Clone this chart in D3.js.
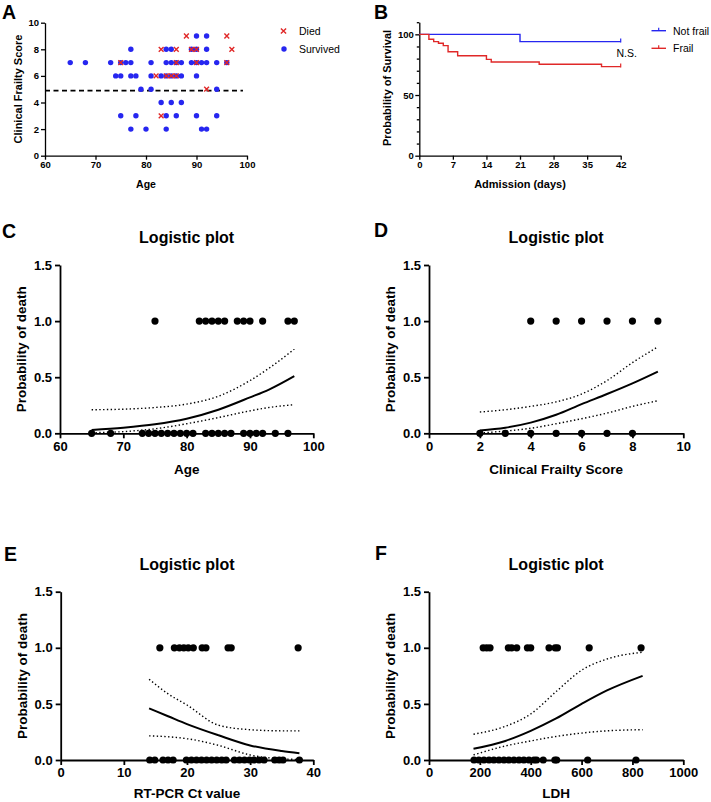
<!DOCTYPE html>
<html>
<head>
<meta charset="utf-8">
<script src="https://cdn.jsdelivr.net/npm/d3@7"></script>
<style>
  body { margin: 0; background: #fff; }
  text { font-family: "Liberation Sans", Arial, sans-serif; }
</style>
</head>
<body>
<svg id="fig" width="711" height="802"></svg>
<script>
// ---- data ----
var blue = "#2626f0", red = "#e02828";

// panel A: [age, clinical frailty score]
var survivedA = [
  [90,9],[92,9],
  [77,8],[84,8],[85,8],[89,8],[90,8],[92,8],
  [65,7],[68,7],[73,7],[75,7],[76,7],[77,7],[81,7],[84,7],[85,7],[86,7],[87,7],[89,7],[90,7],[91,7],[92,7],[94,7],[96,7],
  [74,6],[75,6],[77,6],[78,6],[81,6],[83,6],[84,6],[85,6],[86,6],[87,6],[90,6],
  [79,5],[81,5],[94,5],
  [83,4],[85,4],[87,4],
  [75,3],[78,3],[84,3],[86,3],[90,3],[94,3],
  [77,2],[80,2],[84,2],[91,2],[92,2]
];
var diedA = [
  [88,9],[96,9],
  [83,8],[86,8],[89,8],[90,8],[97,8],
  [75,7],[86,7],[90,7],[96,7],
  [82,6],[84,6],[85,6],[86,6],
  [92,5],
  [83,3]
];
var frailtyCutoff = 4.9;

// panel B: Kaplan-Meier steps
var notFrailDays = [0, 21, 42];
var notFrailSurv = [100, 94, 94];
var frailDays = [0, 2, 3, 4, 5, 6, 8, 14, 15, 25, 38, 42];
var frailSurv = [100, 96, 94, 92.6, 90.7, 85.7, 82.4, 79.4, 77.2, 75.3, 73.4, 73.4];

// panel C: age
var deadC = [75,82,83,84,85,86,88,89,90,92,96,97];
var aliveC = [65,68,73,74,75,76,77,78,79,80,81,83,84,85,86,87,89,90,91,92,94,96];
var fitXC = [65,70,75,80,85,90,93,97];
var fitC = [0.03,0.05,0.08,0.13,0.21,0.32,0.39,0.51];
var upperC = [0.21,0.215,0.23,0.26,0.33,0.47,0.58,0.75];
var lowerC = [0.005,0.015,0.04,0.085,0.14,0.2,0.23,0.255];

// panel D: clinical frailty score
var deadD = [4,5,6,7,8,9];
var aliveD = [2,3,4,5,6,7,8];
var fitXD = [2,3,4,5,6,7,8,9];
var fitD = [0.025,0.05,0.095,0.165,0.26,0.35,0.445,0.55];
var upperD = [0.19,0.21,0.24,0.28,0.35,0.47,0.63,0.77];
var lowerD = [0.003,0.02,0.045,0.085,0.13,0.18,0.24,0.29];

// panel E: RT-PCR Ct value
var deadE = [15.7,18,18.8,19.5,20.2,21,22.4,23,26.5,27,37.6];
var aliveE = [14.1,14.9,16.2,17,17.8,19.9,20.7,21.5,22.3,23.1,23.9,24.7,25.5,26.2,27.5,28.3,29.1,29.9,30.6,31.4,32.2,33.9,34.6,35.2,37.8];
var fitXE = [14,17,20,25,30,35,37.8];
var fitE = [0.46,0.39,0.32,0.22,0.13,0.08,0.06];
var upperE = [0.72,0.59,0.49,0.31,0.27,0.26,0.26];
var lowerE = [0.215,0.207,0.19,0.13,0.045,0.01,0.005];

// panel F: LDH
var deadF = [213,227,240,312,325,345,387,400,472,496,505,630,834];
var aliveF = [177,196,216,236,255,275,295,314,334,354,373,393,413,423,449,495,502,624,814];
var fitXF = [175,300,400,500,600,700,840];
var fitF = [0.10,0.17,0.26,0.37,0.50,0.62,0.75];
var upperF = [0.23,0.30,0.41,0.61,0.80,0.90,0.96];
var lowerF = [0.045,0.125,0.17,0.21,0.24,0.26,0.27];

var svg = d3.select("#fig");

function styleAxis(g, w, fs) {
  g.select(".domain").attr("stroke", "#000").attr("stroke-width", w);
  g.selectAll(".tick line").attr("stroke", "#000").attr("stroke-width", w);
  g.selectAll(".tick text").attr("fill", "#000")
    .style("font-size", fs + "px").style("font-weight", "bold")
    .style("font-family", '"Liberation Sans", Arial, sans-serif');
}

function letter(t, x, y) {
  svg.append("text").attr("x", x).attr("y", y).text(t)
    .style("font-size", "19.5px").style("font-weight", "bold");
}

// ---------- panel A ----------
letter("A", 2, 18.5);
var xA = d3.scaleLinear().domain([60, 100]).range([45, 247]);
var yA = d3.scaleLinear().domain([0, 10]).range([155.7, 22.7]);

svg.append("g").attr("transform", "translate(0,155.7)")
  .call(d3.axisBottom(xA).tickValues([60,70,80,90,100]).tickSize(4).tickSizeOuter(0).tickPadding(2))
  .call(styleAxis, 1.3, 9.5);
svg.append("g").attr("transform", "translate(45,0)")
  .call(d3.axisLeft(yA).tickValues([0,2,4,6,8,10]).tickSize(4).tickSizeOuter(0).tickPadding(2))
  .call(styleAxis, 1.3, 9.5);

svg.append("line").attr("x1", xA(60)).attr("x2", xA(99.2))
  .attr("y1", yA(frailtyCutoff)).attr("y2", yA(frailtyCutoff))
  .attr("stroke", "#000").attr("stroke-width", 1.8).attr("stroke-dasharray", "5,3.5");

svg.append("g").selectAll("circle").data(survivedA).enter().append("circle")
  .attr("cx", d => xA(d[0])).attr("cy", d => yA(d[1])).attr("r", 2.7).attr("fill", blue);

function cross(g, x, y, s, c) {
  g.append("path").attr("d", `M${x-s},${y-s}L${x+s},${y+s}M${x-s},${y+s}L${x+s},${y-s}`)
    .attr("stroke", c).attr("stroke-width", 1.4).attr("fill", "none");
}
var gx = svg.append("g");
diedA.forEach(d => cross(gx, xA(d[0]), yA(d[1]), 2.4, red));

svg.append("text").attr("transform", "translate(21.5,89) rotate(-90)").attr("text-anchor", "middle")
  .text("Clinical Frailty Score").style("font-size", "11px").style("font-weight", "bold");
svg.append("text").attr("x", xA(80)).attr("y", 187.5).attr("text-anchor", "middle")
  .text("Age").style("font-size", "10.5px").style("font-weight", "bold");

cross(svg, 283.5, 31, 2.6, red);
svg.append("circle").attr("cx", 284).attr("cy", 49).attr("r", 2.7).attr("fill", blue);
svg.append("text").attr("x", 299).attr("y", 35).text("Died").style("font-size", "10.5px");
svg.append("text").attr("x", 299).attr("y", 53).text("Survived").style("font-size", "10.5px");

// ---------- panel B ----------
letter("B", 374, 18.5);
var xB = d3.scaleLinear().domain([0, 42]).range([419.3, 620.7]);
var yB = d3.scaleLinear().domain([0, 110]).range([155.7, 22.2]);

svg.append("g").attr("transform", "translate(0,155.7)")
  .call(d3.axisBottom(xB).tickValues(d3.range(0, 43, 7)).tickSize(4).tickSizeOuter(0).tickPadding(2))
  .call(styleAxis, 1.3, 9.5);
svg.append("g").attr("transform", "translate(419.3,0)")
  .call(d3.axisLeft(yB).tickValues(d3.range(0, 111, 10)).tickSize(2.5).tickSizeOuter(0).tickPadding(3)
    .tickFormat(d => (d % 50 === 0 ? d : "")))
  .call(styleAxis, 1.3, 9.5)
  .call(g => g.selectAll(".tick line").filter(d => d % 50 === 0 && d <= 100).attr("x2", -4));

var stepLine = d3.line().x(d => xB(d[0])).y(d => yB(d[1])).curve(d3.curveStepAfter);
svg.append("path").datum(d3.zip(notFrailDays, notFrailSurv)).attr("d", stepLine)
  .attr("fill", "none").attr("stroke", blue).attr("stroke-width", 1.4);
svg.append("path").datum(d3.zip(frailDays, frailSurv)).attr("d", stepLine)
  .attr("fill", "none").attr("stroke", red).attr("stroke-width", 1.4);
// censor marks at end of follow-up
[[notFrailSurv, blue], [frailSurv, red]].forEach(function (s) {
  var v = s[0][s[0].length - 1];
  svg.append("line").attr("x1", xB(42)).attr("x2", xB(42)).attr("y1", yB(v) - 3).attr("y2", yB(v) + 1)
    .attr("stroke", s[1]).attr("stroke-width", 1.2);
});

svg.append("text").attr("transform", "translate(390.5,88) rotate(-90)").attr("text-anchor", "middle")
  .text("Probability of Survival").style("font-size", "11px").style("font-weight", "bold");
svg.append("text").attr("x", xB(21)).attr("y", 187.5).attr("text-anchor", "middle")
  .text("Admission (days)").style("font-size", "11px").style("font-weight", "bold");
svg.append("text").attr("x", 616.5).attr("y", 56.5).text("N.S.").style("font-size", "10.5px");

[[30.7, blue, "Not frail"], [48.3, red, "Frail"]].forEach(function (l) {
  svg.append("line").attr("x1", 651.5).attr("x2", 666).attr("y1", l[0]).attr("y2", l[0])
    .attr("stroke", l[1]).attr("stroke-width", 1.4);
  svg.append("line").attr("x1", 658.7).attr("x2", 658.7).attr("y1", l[0] - 3).attr("y2", l[0])
    .attr("stroke", l[1]).attr("stroke-width", 1.2);
  svg.append("text").attr("x", 673).attr("y", l[0] + 4).text(l[2]).style("font-size", "10.5px");
});

// ---------- logistic panels ----------
function logistic(p) {
  var x = d3.scaleLinear().domain(p.xDomain).range(p.xRange);
  var y = d3.scaleLinear().domain([0, 1.5]).range([p.y0, p.y0 - 168.3]);
  var midX = (p.xRange[0] + p.xRange[1]) / 2;

  letter(p.letter, p.lx, p.ly);
  svg.append("text").attr("x", midX).attr("y", p.y0 - 190.5).attr("text-anchor", "middle")
    .text("Logistic plot").style("font-size", "16px").style("font-weight", "bold");

  svg.append("g").attr("transform", `translate(0,${p.y0})`)
    .call(d3.axisBottom(x).tickValues(p.ticks).tickFormat(d3.format("d")).tickSize(5).tickSizeOuter(0).tickPadding(3))
    .call(styleAxis, 1.8, 13);
  svg.append("g").attr("transform", `translate(${p.xRange[0]},0)`)
    .call(d3.axisLeft(y).tickValues([0, 0.5, 1, 1.5]).tickFormat(d3.format(".1f")).tickSize(5).tickSizeOuter(0).tickPadding(3))
    .call(styleAxis, 1.8, 13);

  var line = d3.line().x(d => x(d[0])).y(d => y(d[1])).curve(d3.curveMonotoneX);
  svg.append("path").datum(d3.zip(p.fitX, p.upper)).attr("d", line)
    .attr("fill", "none").attr("stroke", "#000").attr("stroke-width", 1.4).attr("stroke-dasharray", "1.4,2.4");
  svg.append("path").datum(d3.zip(p.fitX, p.lower)).attr("d", line)
    .attr("fill", "none").attr("stroke", "#000").attr("stroke-width", 1.4).attr("stroke-dasharray", "1.4,2.4");
  svg.append("path").datum(d3.zip(p.fitX, p.fit)).attr("d", line)
    .attr("fill", "none").attr("stroke", "#000").attr("stroke-width", 2);

  var pts = p.dead.map(v => [v, 1]).concat(p.alive.map(v => [v, 0]));
  svg.append("g").selectAll("circle").data(pts).enter().append("circle")
    .attr("cx", d => x(d[0])).attr("cy", d => y(d[1])).attr("r", 3.6).attr("fill", "#000");

  svg.append("text").attr("transform", `translate(${p.xRange[0] - 34},${p.y0 - 84}) rotate(-90)`)
    .attr("text-anchor", "middle")
    .text("Probability of death").style("font-size", "13.5px").style("font-weight", "bold");
  svg.append("text").attr("x", midX).attr("y", p.y0 + p.titleDy).attr("text-anchor", "middle")
    .text(p.xTitle).style("font-size", "13.5px").style("font-weight", "bold");
}

logistic({letter: "C", lx: 2, ly: 238, y0: 433.3, xDomain: [60, 100], xRange: [60, 313.3],
  ticks: [60,70,80,90,100], xTitle: "Age", titleDy: 40.5, dead: deadC, alive: aliveC,
  fitX: fitXC, fit: fitC, upper: upperC, lower: lowerC});
logistic({letter: "D", lx: 374, ly: 237, y0: 433.3, xDomain: [0, 10], xRange: [429, 683.3],
  ticks: [0,2,4,6,8,10], xTitle: "Clinical Frailty Score", titleDy: 40.5, dead: deadD, alive: aliveD,
  fitX: fitXD, fit: fitD, upper: upperD, lower: lowerD});
logistic({letter: "E", lx: 4, ly: 560.5, y0: 760, xDomain: [0, 40], xRange: [60.7, 313.3],
  ticks: [0,10,20,30,40], xTitle: "RT-PCR Ct value", titleDy: 37.5, dead: deadE, alive: aliveE,
  fitX: fitXE, fit: fitE, upper: upperE, lower: lowerE});
logistic({letter: "F", lx: 375, ly: 559.5, y0: 760, xDomain: [0, 1000], xRange: [429, 683.3],
  ticks: [0,200,400,600,800,1000], xTitle: "LDH", titleDy: 37.5, dead: deadF, alive: aliveF,
  fitX: fitXF, fit: fitF, upper: upperF, lower: lowerF});
</script>
</body>
</html>
